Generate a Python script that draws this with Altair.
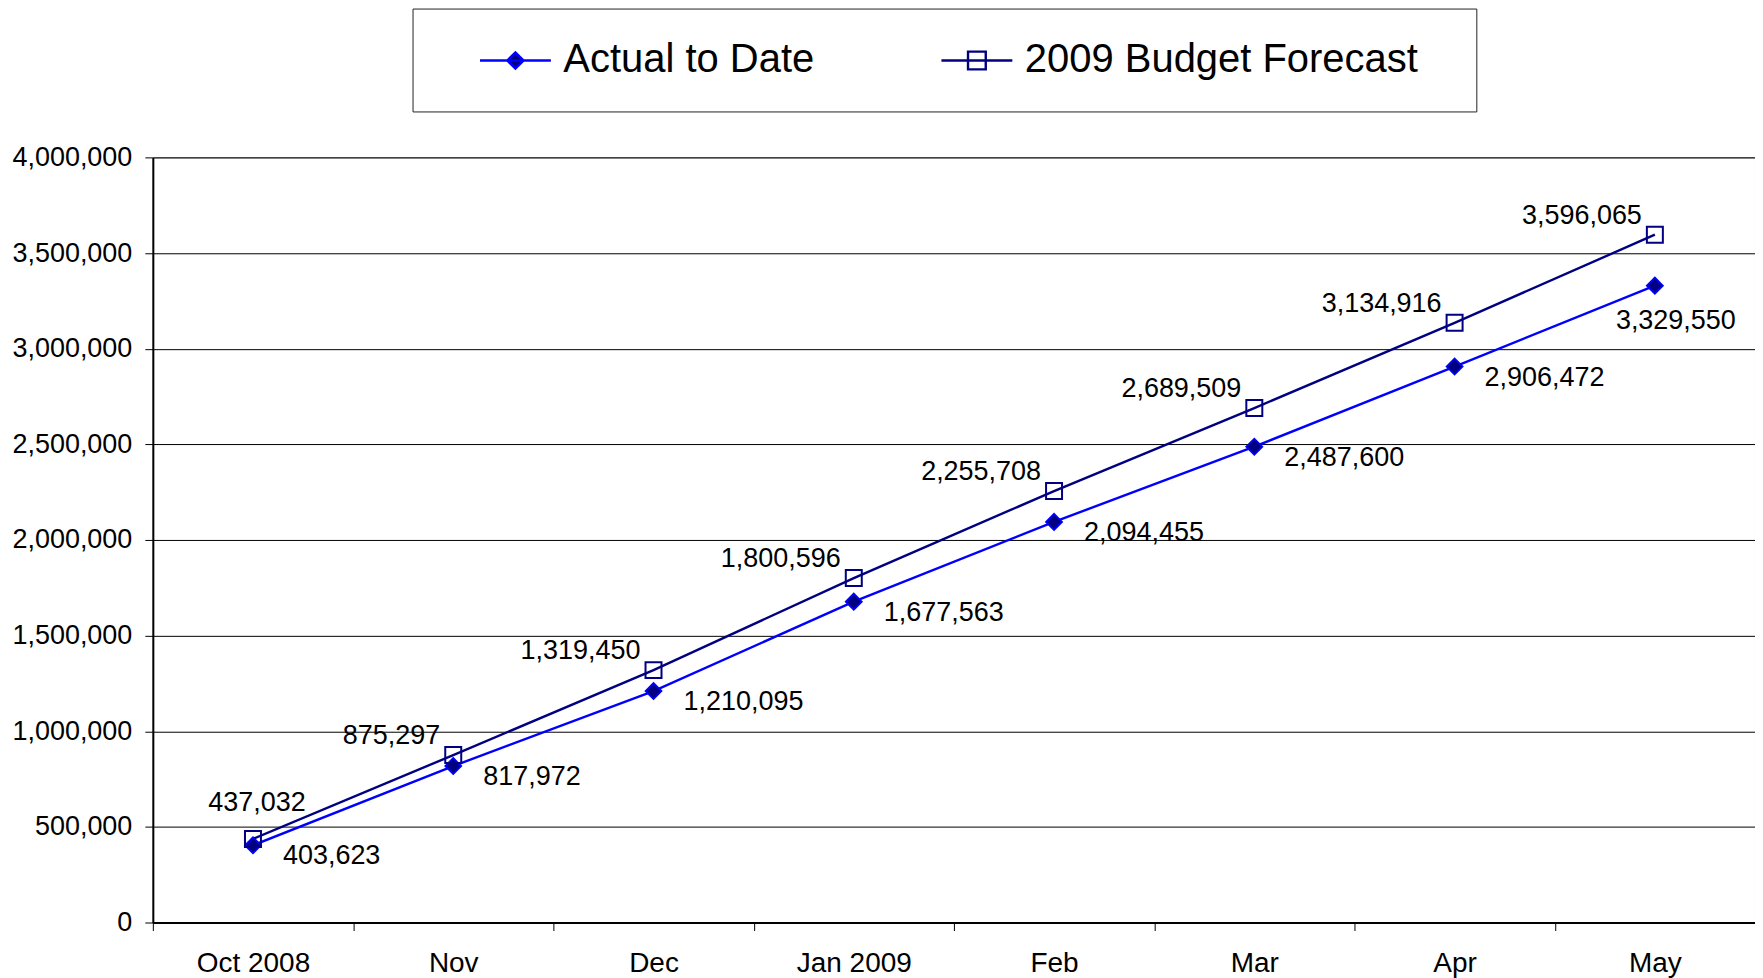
import altair as alt
import pandas as pd

months = ["Oct 2008", "Nov", "Dec", "Jan 2009", "Feb", "Mar", "Apr", "May"]
actual = [403623, 817972, 1210095, 1677563, 2094455, 2487600, 2906472, 3329550]
budget = [437032, 875297, 1319450, 1800596, 2255708, 2689509, 3134916, 3596065]
series_names = ["Actual to Date", "2009 Budget Forecast"]
y_ticks = [0, 500000, 1000000, 1500000, 2000000, 2500000, 3000000, 3500000, 4000000]

rows = []
for s, vals in zip(series_names, [actual, budget]):
    for m, v in zip(months, vals):
        rows.append({"Month": m, "Value": v, "Series": s})
df = pd.DataFrame(rows)

FONT = "Liberation Sans"
BLUE = "#0000FF"
NAVY = "#000080"

x_enc = alt.X(
    "Month:N",
    sort=months,
    scale=alt.Scale(type="band", paddingInner=0, paddingOuter=0),
    axis=alt.Axis(
        title=None, labelAngle=0, labelFontSize=28, labelFont=FONT, labelColor="black",
        tickBand="extent", ticks=True, tickSize=8, tickColor="black", tickWidth=1,
        domainColor="black", domainWidth=2, labelPadding=19, grid=False,
    ),
)
y_enc = alt.Y(
    "Value:Q",
    scale=alt.Scale(domain=[0, 4000000], nice=False),
    axis=alt.Axis(
        title=None, values=y_ticks, format=",d", labelFontSize=27, labelFont=FONT,
        labelColor="black", tickSize=8, tickColor="black", tickWidth=1,
        domainColor="black", domainWidth=2, labelPadding=13,
        grid=True, gridColor="#000000", gridWidth=1,
    ),
)

base = alt.Chart(df).encode(x=x_enc, y=y_enc)
is_a = alt.datum.Series == series_names[0]
is_b = alt.datum.Series == series_names[1]
first_month = f"datum.Month == '{months[0]}'"
last_month = f"datum.Month == '{months[-1]}'"

lines = base.mark_line(strokeWidth=2.4).encode(
    color=alt.Color("Series:N", scale=alt.Scale(domain=series_names, range=[BLUE, NAVY]), legend=None),
    detail="Series:N",
)

pts_a = base.transform_filter(is_a).mark_point(
    shape="diamond", size=256, opacity=1, filled=True, fill=NAVY, stroke=BLUE, strokeWidth=1.8
)
pts_b = base.transform_filter(is_b).mark_point(
    shape="square", size=256, opacity=1, filled=False, fill="transparent", stroke=NAVY, strokeWidth=2
)

# legend symbols: a line segment through the series marker
path_a = "M-1,0H1M-0.23,0L0,-0.23L0.23,0L0,0.23Z"
path_b = "M-1,0H1M-0.25,-0.25H0.25V0.25H-0.25Z"

legend = alt.Legend(
    # invisible spacer title below the entries widens/deepens the framed box
    title="_" * 155, titleOrient="bottom", titleFontSize=12, titlePadding=5,
    titleOpacity=0, titleLimit=3000, titleAnchor="start", titleFont=FONT,
    orient="none", legendX=260, legendY=-149, direction="horizontal",
    labelFontSize=40, labelFont=FONT, labelColor="black", labelLimit=1000,
    symbolSize=5041, symbolStrokeWidth=2.4, symbolOpacity=1,
    strokeColor="#222222", fillColor="white", padding=15,
    symbolOffset=51, columnPadding=74, labelOffset=11,
)

legend_layer = base.mark_point(size=5041, opacity=0, strokeWidth=2.4).encode(
    shape=alt.Shape("Series:N", scale=alt.Scale(domain=series_names, range=[path_a, path_b]), legend=legend),
    fill=alt.Fill("Series:N", scale=alt.Scale(domain=series_names, range=[NAVY, "transparent"]), legend=legend),
    stroke=alt.Stroke("Series:N", scale=alt.Scale(domain=series_names, range=[BLUE, NAVY]), legend=legend),
)

text_a = base.transform_filter(is_a).mark_text(
    baseline="middle", fontSize=27, font=FONT, color="black",
    align=alt.expr(f"{last_month} ? 'center' : 'left'"),
    dx=alt.expr(f"{last_month} ? 21 : 30"),
    dy=alt.expr(f"{last_month} ? 35 : 11"),
).encode(text=alt.Text("Value:Q", format=",d"))

text_b = base.transform_filter(is_b).mark_text(
    baseline="middle", fontSize=27, font=FONT, color="black",
    align=alt.expr(f"{first_month} ? 'center' : 'right'"),
    dx=alt.expr(f"{first_month} ? 4 : -13"),
    dy=alt.expr(f"{first_month} ? -36 : -19"),
).encode(text=alt.Text("Value:Q", format=",d"))

chart = (
    alt.layer(legend_layer, lines, pts_a, pts_b, text_a, text_b)
    .properties(
        width=1604, height=766, autosize="none",
        padding={"left": 145, "top": 149, "right": 0, "bottom": 60},
        background="white",
    )
    .configure_view(stroke="#808080", strokeWidth=1)
)

chart.save("out.html", embed_options={"renderer": "svg", "actions": False})
